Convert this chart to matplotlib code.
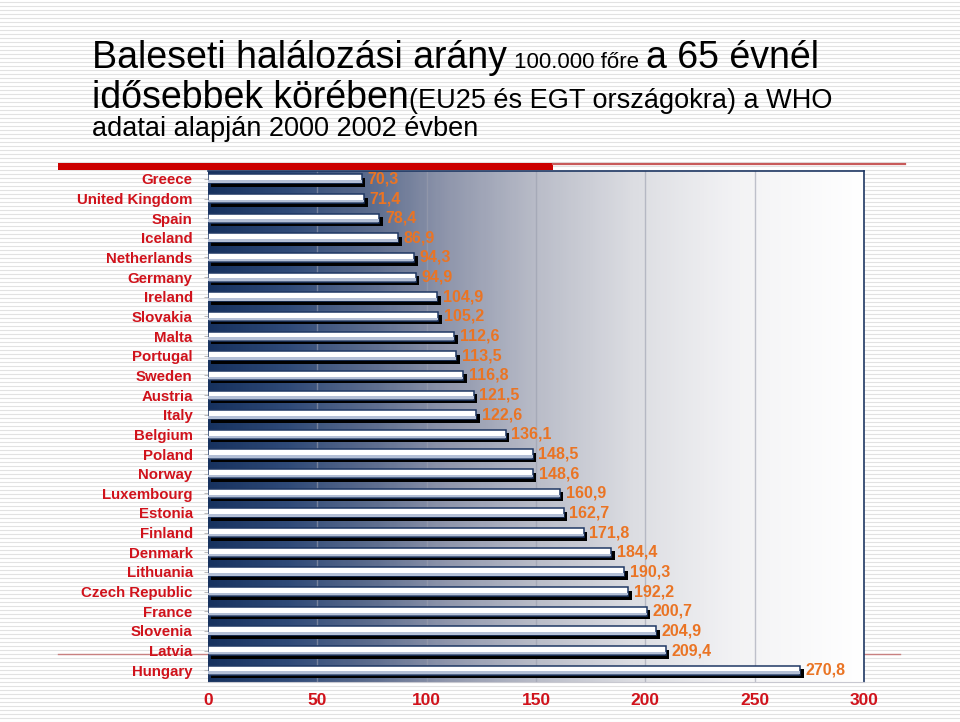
import numpy as np
import matplotlib
matplotlib.use('Agg')
import matplotlib.pyplot as plt
from matplotlib import font_manager
from matplotlib.colors import LinearSegmentedColormap
from matplotlib.patches import Rectangle

countries = ['Greece', 'United Kingdom', 'Spain', 'Iceland', 'Netherlands', 'Germany',
             'Ireland', 'Slovakia', 'Malta', 'Portugal', 'Sweden', 'Austria', 'Italy',
             'Belgium', 'Poland', 'Norway', 'Luxembourg', 'Estonia', 'Finland', 'Denmark',
             'Lithuania', 'Czech Republic', 'France', 'Slovenia', 'Latvia', 'Hungary']
rates = [70.3, 71.4, 78.4, 86.9, 94.3, 94.9, 104.9, 105.2, 112.6, 113.5, 116.8, 121.5,
         122.6, 136.1, 148.5, 148.6, 160.9, 162.7, 171.8, 184.4, 190.3, 192.2, 200.7,
         204.9, 209.4, 270.8]
xticks = [0, 50, 100, 150, 200, 250, 300]

names = {f.name for f in font_manager.fontManager.ttflist}
title_font = 'Liberation Sans Narrow' if 'Liberation Sans Narrow' in names else 'Liberation Sans'
label_font = 'Liberation Sans'

RED = '#d0121b'
ORANGE = '#ea7424'
NAVY = '#1f3864'

W, H = 960, 722
fig = plt.figure(figsize=(W / 100, H / 100), dpi=100)
fig.patch.set_facecolor('white')

# striped slide background
bg = fig.add_axes([0, 0, 1, 1], zorder=-10)
bg.set_xlim(0, W)
bg.set_ylim(H, 0)
bg.axis('off')
for yy in np.arange(1.5, H, 4):
    bg.axhline(yy, color='#e2e2e2', lw=0.8, zorder=1)
# red header bar and thin lines
bg.add_patch(Rectangle((58, 162.5), 495, 7, color='#cc0000', lw=0, zorder=5))
bg.plot([553, 905], [164, 164], color='#c85a5a', lw=1.6, zorder=5)
bg.plot([58, 900], [654, 654], color='#c88080', lw=1.0, zorder=5)

# chart area
ax = fig.add_axes([208 / W, 1 - 682 / H, 656 / W, 511 / H])
y = np.arange(len(countries))
ax.set_xlim(0, 300)
ax.set_ylim(25.6, -0.4)

cmap = LinearSegmentedColormap.from_list('bgfade', [
    (0.0, '#17325f'), (0.12, '#2f4a78'), (0.25, '#5d6d8e'), (0.36, '#8e95ab'),
    (0.5, '#b9bcc8'), (0.65, '#dcdde2'), (0.8, '#f2f2f4'), (1.0, '#ffffff')])
grad = np.linspace(0, 1, 300).reshape(1, -1)
ax.imshow(grad, extent=[0, 300, 25.6, -0.4], aspect='auto', cmap=cmap, zorder=0)

for xv in xticks[1:-1]:
    ax.axvline(xv, color='#9a9eae', lw=1, alpha=0.6, zorder=1)

h = 0.46
ax.barh(y + 0.18, rates, left=1.6, height=h, color='black', lw=0, zorder=2)
ax.barh(y, rates, height=h, color='white', edgecolor=NAVY, lw=1.1, zorder=3)
ax.barh(y + h * 0.28, rates, height=h * 0.28, color='#b3bfd6', lw=0, zorder=4)

for yi, v in zip(y, rates):
    ax.text(v + 2.6, yi, f'{v:.1f}'.replace('.', ','), va='center', ha='left',
            color=ORANGE, fontsize=11.5, fontweight='bold', family=label_font, zorder=5)

ax.set_yticks(y)
ax.set_yticklabels(countries, color=RED, fontsize=10.8, fontweight='bold', family=label_font)
ax.set_xticks(xticks)
ax.set_xticklabels([str(t) for t in xticks], color=RED, fontsize=12.5, fontweight='bold',
                   family=label_font)
ax.tick_params(axis='y', length=3, color='#bbbbbb', pad=8)
ax.tick_params(axis='x', length=0, pad=8)
for s in ['top', 'right']:
    ax.spines[s].set_color(NAVY)
    ax.spines[s].set_linewidth(1.2)
ax.spines['left'].set_visible(False)
ax.spines['bottom'].set_color('#c8c8d0')

# title made of pieces in different sizes
lines = [
    (1 - 68 / H, [('Baleseti halálozási arány', 27), ('100.000 főre', 16), ('a 65 évnél', 27)]),
    (1 - 108 / H, [('idősebbek körében', 27), ('(EU25 és EGT országokra) a WHO', 19.5)]),
    (1 - 136 / H, [('adatai alapján 2000 2002 évben', 19.5)]),
]
fig.canvas.draw()
r = fig.canvas.get_renderer()
for ypos, parts in lines:
    x = 92
    for i, (txt, sz) in enumerate(parts):
        t = fig.text(x / W, ypos, txt, fontsize=sz, family=title_font, color='black',
                     ha='left', va='baseline')
        ext = t.get_window_extent(renderer=r)
        gap = 0 if txt.endswith('ben') else 7
        x = ext.x1 + gap

fig.savefig('out.png', dpi=100, facecolor='white')
